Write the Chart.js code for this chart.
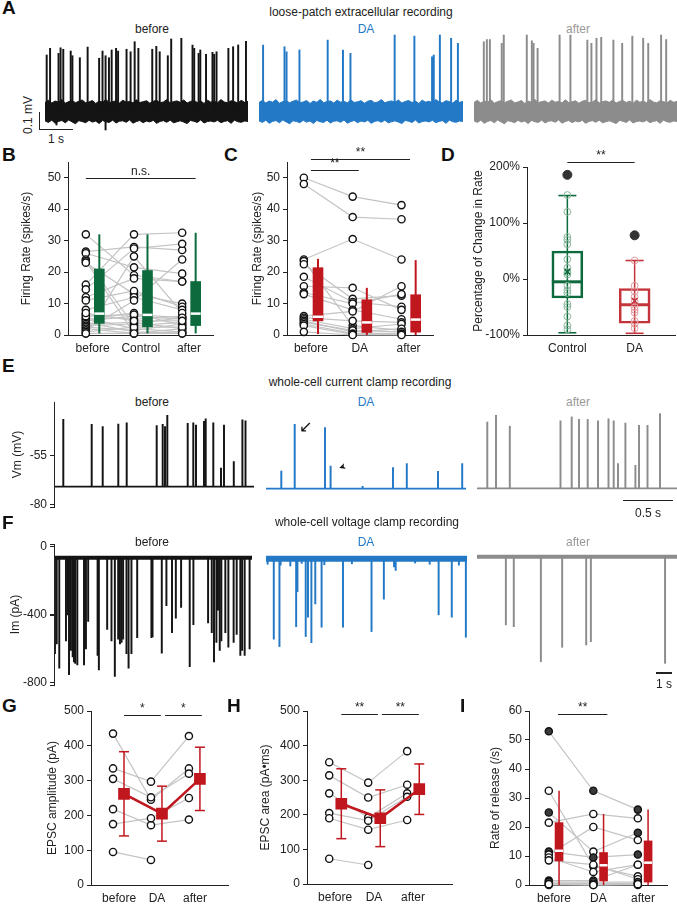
<!DOCTYPE html>
<html>
<head>
<meta charset="utf-8">
<script src="https://cdn.jsdelivr.net/npm/chart.js@4.4.1/dist/chart.umd.min.js"></script>
<style>
body { margin: 0; background: #fff; }
#fig { position: relative; width: 677px; height: 912px; overflow: hidden; font-family: 'Liberation Sans', Arial, sans-serif; color: #222; }
#fig canvas { position: absolute; }
.t { position: absolute; white-space: nowrap; font-size: 12px; transform: translate(-50%, -50%); }
.lab { position: absolute; font-size: 19px; line-height: 19px; font-weight: bold; color: #111; }
.sb { position: absolute; background: #222; z-index: 5; }
</style>
</head>
<body>
<div id="fig"></div>
<script>
// ---------- A: loose-patch traces (time s, peak mV above baseline) ----------
var aNoiseT  = [0,0.1,0.2,0.3,0.4,0.5,0.6,0.7,0.8,0.9,1.0,1.1,1.2,1.3,1.4,1.5,1.6,1.7,1.8,1.9,2.0,2.1,2.2,2.3,2.4,2.5,2.6,2.7,2.8,2.9,3.0,
                3.1,3.2,3.3,3.4,3.5,3.6,3.7,3.8,3.9,4.0,4.1,4.2,4.3,4.4,4.5,4.6,4.7,4.8,4.9,5.0,5.1,5.2,5.3,5.4,5.5,5.6,5.7,5.8,5.9,6.0];
var aNoiseHi = [0.050,0.062,0.047,0.058,0.052,0.066,0.046,0.055,0.060,0.049,
                0.057,0.064,0.048,0.053,0.061,0.045,0.058,0.051,0.067,0.049,
                0.055,0.059,0.047,0.063,0.052,0.056,0.048,0.065,0.050,0.054,
                0.060,0.046,0.057,0.062,0.049,0.053,0.066,0.048,0.055,0.059,
                0.051,0.064,0.047,0.056,0.061,0.050,0.058,0.045,0.063,0.052,
                0.057,0.049,0.066,0.053,0.048,0.060,0.055,0.047,0.062,0.051,0.056];
var aNoiseLo = [-0.052,-0.061,-0.048,-0.066,-0.055,-0.050,-0.063,-0.047,-0.058,-0.068,
                -0.051,-0.056,-0.062,-0.049,-0.059,-0.053,-0.067,-0.050,-0.057,-0.061,
                -0.048,-0.064,-0.054,-0.052,-0.060,-0.047,-0.065,-0.056,-0.050,-0.062,
                -0.053,-0.058,-0.049,-0.066,-0.055,-0.051,-0.060,-0.048,-0.063,-0.057,
                -0.052,-0.059,-0.067,-0.050,-0.054,-0.061,-0.047,-0.064,-0.056,-0.053,
                -0.058,-0.049,-0.062,-0.055,-0.051,-0.066,-0.048,-0.057,-0.060,-0.053,-0.055];
var aBeforeT = [0.05,0.15,0.40,0.46,0.54,0.76,0.81,1.03,1.26,1.60,1.70,1.79,1.89,1.97,2.10,2.16,2.41,2.53,2.65,2.76,3.17,3.29,3.39,3.63,3.73,4.03,4.36,4.41,4.54,4.59,4.76,4.95,5.00,5.07,5.42,5.56,5.71,5.94];
var aBeforeH = [0.314,0.351,0.323,0.354,0.346,0.336,0.31,0.299,0.358,0.296,0.336,0.31,0.299,0.342,0.351,0.336,0.346,0.332,0.388,0.351,0.346,0.362,0.332,0.31,0.403,0.407,0.369,0.351,0.323,0.342,0.318,0.329,0.318,0.332,0.351,0.36,0.37,0.39];
var aBeforeDipT = [0.34, 1.79];
var aBeforeDipH = [-0.075, -0.103];
var aDaT = [0.12,0.75,0.81,1.19,2.02,2.47,2.69,3.99,4.57,5.09,5.14,5.32,5.65,5.85];
var aDaH = [0.369,0.36,0.332,0.342,0.397,0.342,0.323,0.425,0.419,0.304,0.314,0.425,0.407,0.379];
var aAfterT = [0.29,0.38,0.47,0.82,0.88,1.56,1.71,1.76,1.88,2.53,2.85,3.35,3.47,3.62,3.76,4.12,4.38,4.68,5.0,5.15,5.53,5.68];
var aAfterH = [0.388,0.40,0.40,0.379,0.425,0.425,0.393,0.379,0.351,0.425,0.425,0.397,0.379,0.407,0.412,0.397,0.379,0.419,0.407,0.379,0.425,0.40];

// ---------- B: firing rate, control cells (paired by index) ----------
var bCats = ['before', 'Control', 'after'];
var bBefore  = [32, 26.5, 26, 24, 23.5, 23, 16, 14.5, 12, 11, 8, 6.5, 5.5, 5, 4.5, 4, 3.5, 3, 2.5, 2, 1.5, 1, 0.5, 0.5, 6, 7];
var bControl = [19, 28, 21.5, 3, 0.5, 13, 32, 27.5, 18, 14, 12, 5, 2, 7, 6, 1, 4, 3.5, 1.5, 0.5, 11, 2.5, 0.5, 25, 6.5, 4.5];
var bAfter   = [17, 27, 19.5, 4, 2, 10, 32.5, 29, 17, 9, 8, 6, 1, 3, 5, 0.5, 2, 5.5, 3.5, 1, 24, 2.5, 0.5, 7, 5.5, 4.5];
var bMin = [0.5, 0.5, 0.5], bQ1 = [3.7, 2.6, 3], bMed = [6.8, 6.4, 6.8], bQ3 = [21, 20.5, 17], bMax = [32, 32, 32.5];

// ---------- C: firing rate, DA cells ----------
var cCats = ['before', 'DA', 'after'];
var cBefore = [50, 48, 24, 23.5, 22.5, 18.5, 15.5, 13.5, 13, 6, 5.5, 5, 4.5, 4, 3.5, 3, 1];
var cDa     = [44, 37.5, 30.5, 3, 11.5, 10.5, 15, 10, 8, 7.5, 4.5, 2, 1, 1.5, 0.5, 0.2, 0];
var cAfter  = [41.3, 36.8, 24, 1.5, 12.5, 9, 8, 13, 5, 15.5, 4, 3.5, 2, 1, 0.5, 0.3, 0];
var cMin = [0.3, 0, 0], cQ1 = [4.5, 0.8, 0.9], cMed = [5.8, 4, 4.9], cQ3 = [21.4, 11.2, 12.8], cMax = [24.2, 15, 23.8];

// ---------- D: percentage of change ----------
var dCats = ['Control', 'DA'];
var dControl = [150, 120, 75, 70, 62, 35, 20, 12, 8, -12, -20, -25, -45, -50, -67, -83, -90];
var dDa = [33, -12, -22, -32, -40, -50, -55, -60, -75, -80, -88];
var dMin = [-96, -97], dQ1 = [-34, -79], dMed = [-5, -46], dQ3 = [50, -17], dMax = [149, 33];
var dMean = [13, -39], dOut = [186, 78];

// ---------- E: current clamp (time s, peak mV) ----------
var eBeforeT = [0.093,0.377,0.487,0.643,0.727,1.027,1.087,1.11,1.133,1.337,1.393,1.42,1.50,1.517,1.593,1.67,1.70,1.798,1.884,1.915];
var eBeforeV = [-36.9,-39.4,-40.5,-39.2,-38.6,-40.0,-39.4,-40.5,-34.8,-38.9,-38.6,-39.7,-37.9,-36.6,-38.6,-61.4,-39.7,-58.2,-37.1,-37.6];
var eDaT = [0.153,0.287,0.59,0.646,0.966,1.27,1.408,1.72,1.962];
var eDaV = [-62.6,-40.0,-41.6,-60.2,-70.0,-60.9,-59.0,-62.7,-59.0];
var eAfterT = [0.103,0.19,0.328,0.835,0.947,1.02,1.107,1.21,1.315,1.367,1.41,1.484,1.584,1.62,1.705,1.83];
var eAfterV = [-38.9,-35.6,-40.9,-38.3,-36.4,-37.6,-37.6,-38.3,-37.3,-38.3,-59.0,-39.4,-59.8,-40.5,-40.5,-34.8];
var eBase = [-70.8, -71.1, -71.0];

// ---------- F: voltage clamp (time s, peak pA) ----------
var fBeforeT = [0.06,0.17,0.33,0.75,0.85,0.94,1.06,1.17,1.25,1.33,1.46,1.88,2.0,2.14,2.73,2.81,3.33,3.60,3.81,4.02,4.13,4.23,4.33,4.54,4.67,4.85,5.21,6.10,6.17,6.75,7.04,7.39,7.63,7.96,8.50,8.73,9.65,9.88,10.02,10.17,10.27,10.38,10.48,10.73,10.92,11.25,11.44,11.67,11.78,11.94,12.25];
var fBeforeA = [-630,-573,-715,-554,-402,-753,-611,-649,-677,-687,-696,-696,-601,-440,-639,-725,-487,-554,-762,-544,-573,-563,-544,-630,-715,-630,-535,-535,-531,-626,-349,-506,-421,-358,-705,-459,-449,-506,-677,-563,-374,-611,-554,-506,-592,-563,-516,-639,-611,-639,-601];
var fDaT = [0.48,0.83,1.86,1.94,2.45,2.59,2.8,3.04,3.43,4.75,6.51,7.27,8.0,10.65,11.46,12.33];
var fDaA = [-540,-582,-469,-270,-525,-415,-560,-340,-472,-472,-497,-313,-150,-402,-415,-529];
var fDaSmallT = [0.1,0.9,1.5,2.2,3.6,5.3,7.9,9.2,10.1,11.9];
var fDaSmallA = [-115,-120,-125,-110,-118,-112,-130,-108,-115,-120];
var fAfterT = [1.79,2.28,3.96,5.28,6.77,7.06,11.66];
var fAfterA = [-459,-469,-668,-586,-573,-554,-677];
var fBase = [-67, -84, -73];

// ---------- G, H: EPSC amplitude / area per cell ----------
var gBefore = [435, 335, 305, 218, 175, 95];
var gDa     = [245, 297, 252, 172, 192, 72];
var gAfter  = [335, 428, 320, 188, 250, null];
var gMean = [262, 205, 305], gSd = [121, 79, 91];
var hBefore = [352, 314, 262, 205, 190, 73];
var hDa     = [293, 250, 192, 183, 157, 55];
var hAfter  = [384, 287, 262, 252, 185, null];
var hMean = [232, 190, 274], hSd = [101, 82, 73];

// ---------- I: rate of release ----------
var iBefore = [53, 32.5, 25, 21.5, 11.5, 10.5, 9.5, 8.5, 1.5, 1, 0.5, 0, 0.3];
var iDa     = [32.5, 6.5, 11.5, 24.5, 9.5, 20, 4.5, 7, 1.5, 1, 0.5, 0, 0];
var iAfter  = [26, 3, 18, 23, 10.5, 15.5, 7, 2, 7, 1, 0.5, 0, 0.3];
var iFillBefore = [1,0,1,0,1,0,0,0,1,0,0,0,0];
var iFillDa     = [1,0,0,0,1,0,0,0,0,0,0,0,0];
var iFillAfter  = [1,0,1,0,1,0,0,0,0,0,0,0,0];
var iMin = [0, 0, 0], iQ1 = [8.3, 1.4, 1], iMed = [11.8, 6.8, 7.7], iQ3 = [21.5, 11.2, 15.2], iMax = [32.5, 24.5, 26];

var BLACK = '#141414', BLUE = '#2379c6', GREY = '#8c8c8c', GREEN = '#0c6a3c', RED = '#c0171f', PAIR = '#c4c4c4';

var fig = document.getElementById('fig');
Chart.defaults.font.family = "'Liberation Sans', Arial, sans-serif";
Chart.defaults.font.size = 12;
Chart.defaults.color = '#222';
Chart.defaults.plugins.legend.display = false;
Chart.defaults.plugins.tooltip.enabled = false;
Chart.defaults.events = [];

// significance bars, given in data units
Chart.register({
  id: 'sig',
  afterDatasetsDraw: function(chart) {
    var bars = chart.canvas.sigBars || [];
    var ctx = chart.ctx, x = chart.scales.x, y = chart.scales.y;
    bars.forEach(function(b) {
      var x1 = x.getPixelForValue(b[0]), x2 = x.getPixelForValue(b[1]);
      var yy = Math.round(y.getPixelForValue(b[2])) + 0.5;
      ctx.save();
      ctx.strokeStyle = '#222'; ctx.lineWidth = 1.2;
      ctx.beginPath(); ctx.moveTo(x1, yy); ctx.lineTo(x2, yy); ctx.stroke();
      ctx.fillStyle = '#222'; ctx.font = "12px 'Liberation Sans', Arial";
      ctx.textAlign = 'center'; ctx.textBaseline = 'bottom';
      ctx.fillText(b[3], (x1 + x2) / 2, yy - 1);
      ctx.restore();
    });
  }
});

function xy(xs, ys) { return xs.map(function(x, i) { return {x: x, y: ys[i]}; }); }

function txt(s, x, y, color, extra) {
  var d = document.createElement('div');
  d.className = 't'; d.textContent = s;
  d.style.left = x + 'px'; d.style.top = y + 'px';
  if (color) d.style.color = color;
  if (extra) d.style.cssText += extra;
  fig.appendChild(d);
}
function letter(s, x, y) {
  var d = document.createElement('div');
  d.className = 'lab'; d.textContent = s;
  d.style.left = x + 'px'; d.style.top = y + 'px';
  fig.appendChild(d);
}
function bar(l, t, w, h) {
  var d = document.createElement('div');
  d.className = 'sb';
  d.style.left = l + 'px'; d.style.top = t + 'px';
  d.style.width = w + 'px'; d.style.height = h + 'px';
  fig.appendChild(d);
}

// box = chart area in page pixels; yw / xh = room for the axes
function panel(box, yw, xh, pad, scales, datasets, sig) {
  var c = document.createElement('canvas');
  c.width = box.r - box.l + yw + pad.r;
  c.height = box.b - box.t + xh + pad.t + pad.b;
  c.style.left = (box.l - yw) + 'px';
  c.style.top = (box.t - pad.t) + 'px';
  c.sigBars = sig || [];
  fig.appendChild(c);
  scales.x.afterFit = function(s) { s.height = xh; };
  scales.y.afterFit = function(s) { s.width = yw; };
  return new Chart(c, {
    type: 'scatter',
    data: {datasets: datasets},
    options: {
      responsive: false, animation: false,
      layout: {padding: {top: pad.t, right: pad.r, bottom: pad.b, left: 0}, autoPadding: false},
      scales: scales
    }
  });
}

// left axis line and tick marks for a trace row (E, F), on top of the chart's own border
function leftAxis(box, min, max, ticks) {
  bar(box.l, box.t, 1, box.b - box.t + 1);
  ticks.forEach(function(v) {
    var frac = (v - min) / (max - min);
    bar(box.l - 4, Math.round(box.b - frac * (box.b - box.t)), 4, 1);
  });
}

function valAxis(min, max, ticks, title, fmt) {
  return {
    type: 'linear', position: 'left', min: min, max: max, offset: false,
    afterBuildTicks: function(s) { s.ticks = ticks.map(function(v) { return {value: v}; }); },
    ticks: {padding: 3, color: '#222', autoSkip: false, callback: fmt || function(v) { return v; }},
    grid: {drawOnChartArea: false, drawTicks: true, tickLength: 4, color: '#222', offset: false},
    border: {display: true, color: '#222', width: 1},
    title: {display: !!title, text: title, color: '#222', padding: {top: 4, bottom: 0}}
  };
}
function catAxis(min, max, cats) {
  return {
    type: 'linear', position: 'bottom', min: min, max: max, offset: false,
    afterBuildTicks: function(s) { s.ticks = cats.map(function(c, i) { return {value: i + 1}; }); },
    ticks: {padding: 6, color: '#222', autoSkip: false, maxRotation: 0,
            callback: function(v) { return cats[Math.round(v) - 1]; }},
    grid: {display: false, drawTicks: false, offset: false},
    border: {display: true, color: '#222'}
  };
}
function hidden(min, max) { return {type: 'linear', display: false, min: min, max: max, offset: false, grid: {offset: false}}; }

// paired points + filled box plot (B, C, I)
function boxPanel(box, yw, yAx, xAx, cols, fills, st, color, boxW, off, whW, sig) {
  var ds = [];
  for (var k = 0; k < cols[0].length; k++) {
    ds.push({type: 'line', data: cols.map(function(col, j) { return {x: j + 1 - off, y: col[k]}; }),
      borderColor: PAIR, borderWidth: 1.2, pointRadius: 0, order: 6, clip: false});
  }
  cols.forEach(function(col, j) {
    ds.push({type: 'scatter', data: col.map(function(v) { return {x: j + 1 - off, y: v}; }),
      pointRadius: 3.6, borderWidth: 1.4, pointBorderColor: '#111',
      pointBackgroundColor: fills ? fills[j].map(function(f) { return f ? '#3a3a3a' : '#fff'; }) : '#fff',
      order: 1, clip: false});
  });
  st[0].forEach(function(v, j) {
    ds.push({type: 'line', data: [{x: j + 1 + off, y: st[0][j]}, {x: j + 1 + off, y: st[4][j]}],
      borderColor: color, borderWidth: whW, pointRadius: 0, order: 5, clip: false});
  });
  ds.push({type: 'bar', data: st[1].map(function(v, j) { return {x: j + 1 + off, y: [st[1][j], st[3][j]]}; }),
    backgroundColor: color, borderWidth: 0, barThickness: boxW, grouped: false, order: 3});
  ds.push({type: 'scatter', data: st[2].map(function(v, j) { return {x: j + 1 + off, y: v}; }),
    pointStyle: 'line', pointRadius: boxW / 2, pointBorderColor: '#fff', pointBorderWidth: 2.5, order: 2});
  return panel(box, yw, 22, {t: 26, r: 6, b: 0}, {x: xAx, y: yAx}, ds, sig);
}

// paired points + mean ± SD (G, H)
function meanPanel(box, yw, yAx, xAx, cols, mean, sd, offP, offM, sig) {
  var ds = [];
  for (var k = 0; k < cols[0].length; k++) {
    var line = [];
    cols.forEach(function(col, j) { if (col[k] !== null) line.push({x: j + 1 + offP, y: col[k]}); });
    ds.push({type: 'line', data: line, borderColor: PAIR, borderWidth: 1.2, pointRadius: 0, order: 6, clip: false});
  }
  cols.forEach(function(col, j) {
    var p = [];
    col.forEach(function(v) { if (v !== null) p.push({x: j + 1 + offP, y: v}); });
    ds.push({type: 'scatter', data: p, pointRadius: 3.6, borderWidth: 1.4, pointBorderColor: '#111',
      pointBackgroundColor: '#fff', order: 1, clip: false});
  });
  var caps = [];
  mean.forEach(function(m, j) {
    ds.push({type: 'line', data: [{x: j + 1 + offM, y: m - sd[j]}, {x: j + 1 + offM, y: m + sd[j]}],
      borderColor: RED, borderWidth: 1.5, pointRadius: 0, order: 3});
    caps.push({x: j + 1 + offM, y: m - sd[j]}, {x: j + 1 + offM, y: m + sd[j]});
  });
  ds.push({type: 'scatter', data: caps, pointStyle: 'line', pointRadius: 5, pointBorderColor: RED, pointBorderWidth: 1.5, order: 3});
  ds.push({type: 'line', data: mean.map(function(m, j) { return {x: j + 1 + offM, y: m}; }),
    borderColor: RED, borderWidth: 2.5, pointStyle: 'rect', pointRadius: 6.5,
    pointBackgroundColor: RED, pointBorderColor: RED, order: 0});
  return panel(box, yw, 22, {t: 26, r: 6, b: 0}, {x: xAx, y: yAx}, ds, sig);
}

function traceA(box, color, spT, spH, dipT, dipH) {
  var ds = [
    {type: 'line', data: xy(aNoiseT, aNoiseHi), borderColor: color, backgroundColor: color, borderWidth: 1, pointRadius: 0, fill: '+1', order: 2},
    {type: 'line', data: xy(aNoiseT, aNoiseLo), borderColor: color, borderWidth: 1, pointRadius: 0, fill: false, order: 2},
    {type: 'bar', data: spT.map(function(t, i) { return {x: t, y: [0, spH[i]]}; }), backgroundColor: color, barThickness: 1.3, grouped: false, order: 1}
  ];
  if (dipT) ds.push({type: 'bar', data: dipT.map(function(t, i) { return {x: t, y: [dipH[i], 0]}; }), backgroundColor: color, barThickness: 1.3, grouped: false, order: 1});
  return panel(box, 0, 0, {t: 0, r: 0, b: 0}, {x: hidden(0, 6), y: hidden(-0.114, 0.453)}, ds);
}

var E_TICKS = [-55, -80], F_TICKS = [0, -400, -800];

function traceE(box, yw, color, spT, spV, base) {
  var ds = [
    {type: 'line', data: [{x: 0, y: base}, {x: 2, y: base}], borderColor: color, borderWidth: 1.6, pointRadius: 0, order: 2},
    {type: 'bar', data: spT.map(function(t, i) { return {x: t, y: [base, spV[i]]}; }), backgroundColor: color, barThickness: 1.3, grouped: false, order: 1}
  ];
  var y = yw ? valAxis(-80, -29.2, E_TICKS, 'Vm (mV)') : hidden(-80, -29.2);
  var pad = yw ? {t: 8, r: 0, b: 8} : {t: 0, r: 0, b: 0};
  return panel(box, yw, 0, pad, {x: hidden(0, 2), y: y}, ds);
}

function traceF(box, yw, color, evT, evA, base, bw, smT, smA) {
  var ds = [
    {type: 'line', data: [{x: 0, y: base}, {x: 12.4, y: base}], borderColor: color, borderWidth: bw, pointRadius: 0, order: 2},
    {type: 'bar', data: evT.map(function(t, i) { return {x: t, y: [evA[i], base]}; }), backgroundColor: color, barThickness: 1.3, grouped: false, order: 1}
  ];
  if (smT) ds.push({type: 'bar', data: smT.map(function(t, i) { return {x: t, y: [smA[i], base]}; }), backgroundColor: color, barThickness: 1.3, grouped: false, order: 1});
  var y = yw ? valAxis(-800, 0, F_TICKS, 'Im (pA)') : hidden(-800, 0);
  var pad = yw ? {t: 8, r: 0, b: 8} : {t: 0, r: 0, b: 0};
  return panel(box, yw, 0, pad, {x: hidden(0, 12.4), y: y}, ds);
}

// ---------- A ----------
letter('A', 2, -2);
txt('loose-patch extracellular recording', 361, 12);
txt('before', 152, 29); txt('DA', 366, 29, BLUE); txt('after', 578, 29, '#9a9a9a');
traceA({l: 45, r: 248, t: 30, b: 132}, BLACK, aBeforeT, aBeforeH, aBeforeDipT, aBeforeDipH);
traceA({l: 259, r: 463, t: 30, b: 132}, BLUE, aDaT, aDaH);
traceA({l: 474, r: 677, t: 30, b: 132}, GREY, aAfterT, aAfterH);
bar(39, 112, 1.3, 18); bar(39, 129, 34, 1.3);
txt('0.1 mV', 28, 115, null, 'transform:translate(-50%,-50%) rotate(-90deg);');
txt('1 s', 56, 139);

// ---------- B ----------
letter('B', 2, 145);
boxPanel({l: 68, r: 213, t: 162, b: 335}, 53,
  valAxis(0, 55, [0, 10, 20, 30, 40, 50], 'Firing Rate (spikes/s)'), catAxis(0.49, 3.5, bCats),
  [bBefore, bControl, bAfter], null, [bMin, bQ1, bMed, bQ3, bMax], GREEN, 10, 0.14, 2,
  [[0.86, 3.14, 50, 'n.s.']]);

// ---------- C ----------
letter('C', 224, 145);
boxPanel({l: 287, r: 433, t: 162, b: 335}, 41,
  valAxis(0, 55, [0, 10, 20, 30, 40, 50], 'Firing Rate (spikes/s)'), catAxis(0.51, 3.5, cCats),
  [cBefore, cDa, cAfter], null, [cMin, cQ1, cMed, cQ3, cMax], RED, 10, 0.145, 2,
  [[1, 3.03, 56, '**'], [1, 1.98, 52.5, '**']]);

// ---------- D ----------
letter('D', 441, 145);
(function() {
  var col = [GREEN, '#c3343b'], light = ['#86b79b', '#e29c9f'];
  var ds = [];
  dCats.forEach(function(c, j) {
    ds.push({type: 'line', data: [{x: j + 1, y: dMin[j]}, {x: j + 1, y: dMax[j]}], borderColor: col[j], borderWidth: 1.5, pointRadius: 0, order: 5, clip: false});
  });
  ds.push({type: 'bar', data: dQ1.map(function(v, j) { return {x: j + 1, y: [dQ1[j], dQ3[j]]}; }),
    backgroundColor: 'rgba(255,255,255,0)', borderColor: col, borderWidth: 2, borderSkipped: false,
    barThickness: 31, grouped: false, order: 4});
  ds.push({type: 'scatter', data: [{x: 1, y: dMin[0]}, {x: 1, y: dMax[0]}, {x: 2, y: dMin[1]}, {x: 2, y: dMax[1]}],
    pointStyle: 'line', pointRadius: 9, pointBorderColor: [col[0], col[0], col[1], col[1]], pointBorderWidth: 1.6, order: 3, clip: false});
  ds.push({type: 'scatter', data: dMed.map(function(v, j) { return {x: j + 1, y: v}; }),
    pointStyle: 'line', pointRadius: 15.5, pointBorderColor: col, pointBorderWidth: 3, order: 2});
  [dControl, dDa].forEach(function(p, j) {
    ds.push({type: 'scatter', data: p.map(function(v) { return {x: j + 1, y: v}; }),
      pointRadius: 3.4, pointBorderColor: light[j], pointBackgroundColor: 'rgba(255,255,255,0)', pointBorderWidth: 1, order: 1, clip: false});
  });
  ds.push({type: 'scatter', data: dMean.map(function(v, j) { return {x: j + 1, y: v}; }),
    pointStyle: 'crossRot', pointRadius: 4, pointBorderColor: col, pointBorderWidth: 1.5, order: 0});
  ds.push({type: 'scatter', data: dOut.map(function(v, j) { return {x: j + 1, y: v}; }),
    pointRadius: 4.5, pointBorderColor: '#333', pointBackgroundColor: '#333', order: 0, clip: false});
  panel({l: 527, r: 675, t: 167, b: 335}, 60, 22, {t: 26, r: 2, b: 0},
    {x: catAxis(0.4, 2.6, dCats),
     y: valAxis(-100, 200, [-100, 0, 100, 200], 'Percentage of Change in Rate', function(v) { return v + '%'; })},
    ds, [[1, 2, 209, '**']]);
})();

// ---------- E ----------
letter('E', 2, 356);
txt('whole-cell current clamp recording', 360, 382);
txt('before', 152, 402); txt('DA', 366, 402, BLUE); txt('after', 578, 402, '#9a9a9a');
var E_BOX = {l: 54, r: 254, t: 402, b: 507};
traceE(E_BOX, 48, BLACK, eBeforeT, eBeforeV, eBase[0]);
traceE({l: 266, r: 466, t: 402, b: 507}, 0, BLUE, eDaT, eDaV, eBase[1]);
traceE({l: 477, r: 677, t: 402, b: 507}, 0, GREY, eAfterT, eAfterV, eBase[2]);
leftAxis(E_BOX, -80, -29.2, E_TICKS);
txt('\u2199', 305, 426, '#111', 'font-size:16px;');
txt('\u27A4', 342, 467, '#111', 'font-size:9px;transform:translate(-50%,-50%) rotate(160deg);');
bar(623, 500, 50, 1.3);
txt('0.5 s', 648, 513);

// ---------- F ----------
letter('F', 2, 513);
txt('whole-cell voltage clamp recording', 367, 522);
txt('before', 152, 542); txt('DA', 366, 542, BLUE); txt('after', 578, 542, '#9a9a9a');
var F_BOX = {l: 54, r: 252, t: 544, b: 685};
traceF(F_BOX, 50, BLACK, fBeforeT, fBeforeA, fBase[0], 4);
traceF({l: 266, r: 467, t: 544, b: 685}, 0, BLUE, fDaT, fDaA, fBase[1], 6, fDaSmallT, fDaSmallA);
traceF({l: 477, r: 677, t: 544, b: 685}, 0, GREY, fAfterT, fAfterA, fBase[2], 4);
leftAxis(F_BOX, -800, 0, F_TICKS);
bar(656, 672, 16, 1.5);
txt('1 s', 664, 684);

// ---------- G, H, I ----------
letter('G', 2, 696);
meanPanel({l: 91, r: 228, t: 711, b: 885}, 50,
  valAxis(0, 500, [0, 100, 200, 300, 400, 500], 'EPSC amplitude (pA)'), catAxis(0.26, 3.87, cCats),
  [gBefore, gDa, gAfter], gMean, gSd, -0.16, 0.13,
  [[1.13, 2.1, 488, '*'], [2.21, 3.18, 488, '*']]);

letter('H', 227, 696);
meanPanel({l: 307, r: 452, t: 711, b: 884}, 53,
  valAxis(0, 500, [0, 100, 200, 300, 400, 500], 'EPSC area (pA\u2022ms)'), catAxis(0.28, 4.0, cCats),
  [hBefore, hDa, hAfter], hMean, hSd, -0.15, 0.16,
  [[1.16, 2.1, 492, '**'], [2.2, 3.15, 492, '**']]);

letter('I', 460, 696);
boxPanel({l: 529, r: 667, t: 711, b: 885}, 45,
  valAxis(0, 60, [0, 10, 20, 30, 40, 50, 60], 'Rate of release (/s)'), catAxis(0.44, 3.54, cCats),
  [iBefore, iDa, iAfter], [iFillBefore, iFillDa, iFillAfter], [iMin, iQ1, iMed, iQ3, iMax], RED, 8, 0.115, 1.5,
  [[1.09, 2.2, 59, '**']]);
</script>
</body>
</html>
